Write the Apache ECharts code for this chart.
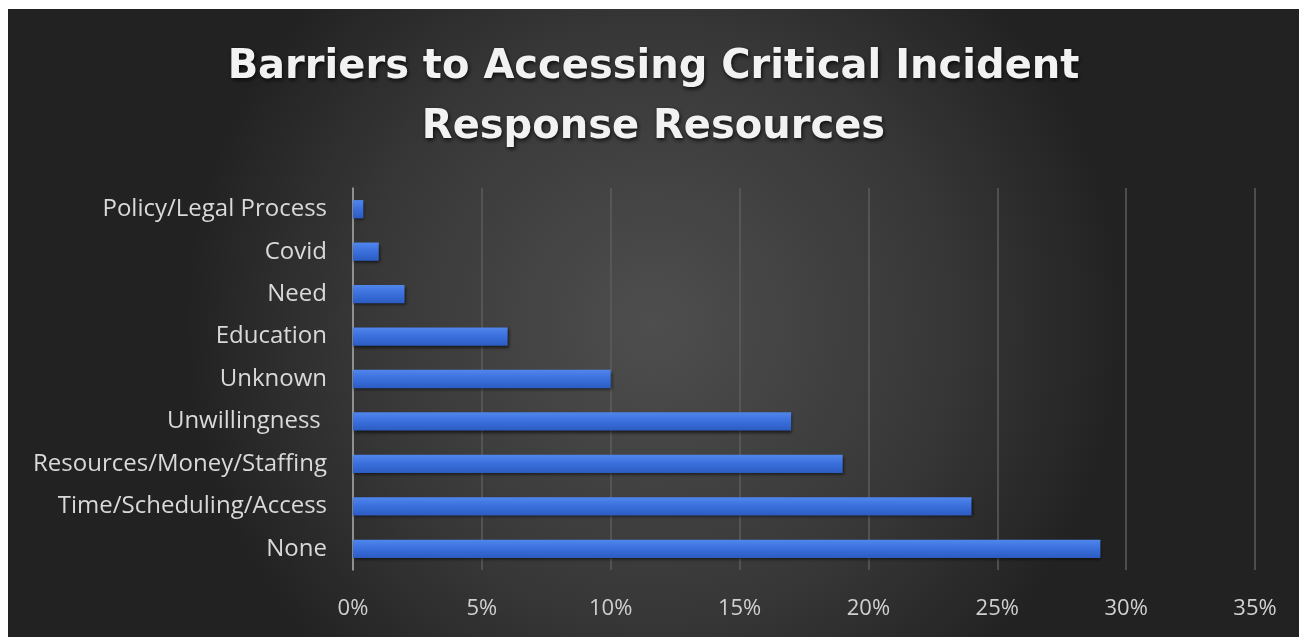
<!DOCTYPE html>
<html>
<head>
<meta charset="utf-8">
<script src="https://cdn.jsdelivr.net/npm/echarts@6/dist/echarts.min.js"></script>
<style>
html,body{margin:0;padding:0;background:#ffffff;width:1299px;height:637px;overflow:hidden;}
#chart{position:absolute;left:8px;top:9px;width:1291px;height:628px;}
</style>
</head>
<body>
<div id="chart"></div>
<script>
const titleLines = ["Barriers to Accessing Critical Incident", "Response Resources"];
const categories = ["None", "Time/Scheduling/Access", "Resources/Money/Staffing", "Unwillingness ", "Unknown", "Education", "Need", "Covid", "Policy/Legal Process"];
const values = [29, 24, 19, 17, 10, 6, 2, 1, 0.4];
const xTicks = [0, 5, 10, 15, 20, 25, 30, 35];

const chart = echarts.init(document.getElementById('chart'));
chart.setOption({
  backgroundColor: {
    type: 'radial', x: 0.5, y: 0.5, r: 0.75,
    colorStops: [
      {offset: 0, color: '#4e4e4e'},
      {offset: 0.6, color: '#383838'},
      {offset: 1, color: '#222222'}
    ]
  },
  title: {
    text: titleLines.join('\n'),
    left: 'center',
    top: 24,
    textStyle: {
      fontFamily: 'DejaVu Sans',
      fontWeight: 'bold',
      fontSize: 40,
      lineHeight: 60,
      color: '#f2f2f2',
      textShadowColor: 'rgba(0,0,0,0.8)',
      textShadowBlur: 4,
      textShadowOffsetX: 1,
      textShadowOffsetY: 2
    }
  },
  grid: {left: 345, right: 44, top: 179, bottom: 67, containLabel: false},
  xAxis: {
    type: 'value',
    min: xTicks[0],
    max: xTicks[xTicks.length - 1],
    interval: 5,
    axisLine: {show: false},
    axisTick: {show: false},
    splitLine: {show: true, lineStyle: {color: '#5c5c5c', width: 1.5}},
    axisLabel: {
      formatter: v => v + '%',
      color: '#d0d0d0',
      fontFamily: 'Open Sans',
      fontSize: 22,
      margin: 28
    }
  },
  yAxis: {
    type: 'category',
    data: categories,
    axisLine: {show: true, lineStyle: {color: '#a6a6a6', width: 1.5}},
    axisTick: {show: false},
    axisLabel: {
      color: '#d9d9d9',
      fontFamily: 'Open Sans',
      fontSize: 24,
      margin: 26
    }
  },
  series: [{
    type: 'bar',
    data: values,
    barCategoryGap: '57%',
    itemStyle: {
      color: {
        type: 'linear', x: 0, y: 0, x2: 0, y2: 1,
        colorStops: [
          {offset: 0, color: '#5086ec'},
          {offset: 0.5, color: '#3a6fdc'},
          {offset: 1, color: '#2c5cc2'}
        ]
      },
      shadowColor: 'rgba(0,0,0,0.6)',
      shadowBlur: 3,
      shadowOffsetX: 1,
      shadowOffsetY: 2
    }
  }],
  animation: false
});
</script>
</body>
</html>
